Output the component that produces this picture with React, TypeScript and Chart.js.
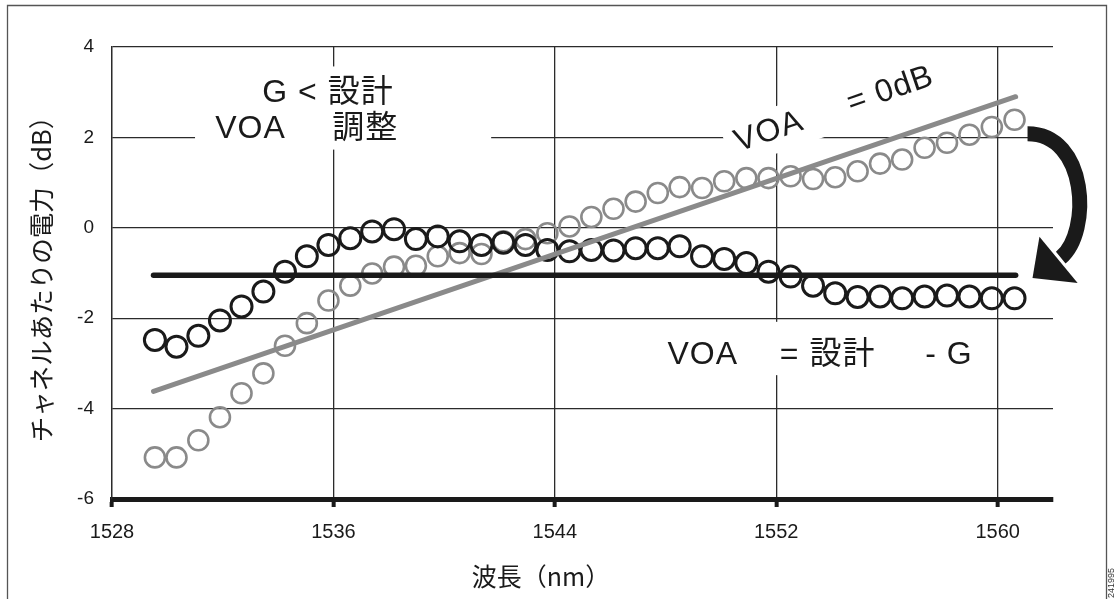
import React, { useEffect, useRef } from "react";
import { Chart, registerables } from "chart.js";

Chart.register(...registerables);

// ---- data ----
const wavelengths = [
  1529.55, 1530.33, 1531.12, 1531.9, 1532.68, 1533.47, 1534.25, 1535.04, 1535.82, 1536.61,
  1537.4, 1538.19, 1538.98, 1539.77, 1540.56, 1541.35, 1542.14, 1542.94, 1543.73, 1544.53,
  1545.32, 1546.12, 1546.92, 1547.72, 1548.51, 1549.32, 1550.12, 1550.92, 1551.72, 1552.52,
  1553.33, 1554.13, 1554.94, 1555.75, 1556.55, 1557.36, 1558.17, 1558.98, 1559.79, 1560.61,
];
const powerAdjusted = [
  -2.48, -2.63, -2.39, -2.05, -1.74, -1.41, -0.97, -0.63, -0.38, -0.23,
  -0.08, -0.03, -0.25, -0.19, -0.3, -0.38, -0.33, -0.38, -0.49, -0.52,
  -0.49, -0.5, -0.45, -0.45, -0.41, -0.63, -0.69, -0.78, -0.97, -1.08,
  -1.28, -1.45, -1.53, -1.52, -1.56, -1.52, -1.5, -1.52, -1.56, -1.56,
];
const powerVoaZero = [
  -5.08, -5.08, -4.7, -4.19, -3.66, -3.22, -2.61, -2.11, -1.61, -1.28,
  -1.01, -0.86, -0.84, -0.63, -0.56, -0.58, -0.3, -0.25, -0.12, 0.03,
  0.24, 0.42, 0.58, 0.77, 0.9, 0.88, 1.03, 1.1, 1.1, 1.14,
  1.08, 1.12, 1.25, 1.42, 1.51, 1.77, 1.88, 2.06, 2.23, 2.39,
];
const designLevelX = [1529.5, 1560.65];
const designLevelY = [-1.05, -1.05];
const tiltLineX = [1529.5, 1560.65];
const tiltLineY = [-3.62, 2.9];
const xTickValues = [1528, 1536, 1544, 1552, 1560];
const yTickValues = [-6, -4, -2, 0, 2, 4];

// ---- text ----
const yTitle = "チャネルあたりの電力（dB）";
const xTitle = "波長（nm）";
const plainLabels = [
  { text: "G < 設計", x: 1533.43, y: 2.79 },
  { text: "VOA", x: 1531.73, y: 1.99 },
  { text: "調整", x: 1535.96, y: 1.99 },
  { text: "VOA", x: 1548.07, y: -3.01 },
  { text: "= 設計", x: 1552.13, y: -3.01 },
  { text: "- G", x: 1557.38, y: -3.01 },
];
const whiteBoxes = [
  { x0: 1531.0, y0: 3.57, x1: 1541.7, y1: 1.73 },
  { x0: 1547.7, y0: -2.08, x1: 1559.4, y1: -3.26 },
];
const rotatedLabel = { x: 1550.64, y: 1.68, angle: -19, parts: [{ text: "VOA", at: 0 }, { text: "= 0dB", at: 119 }] };
const figureId = "241995";

const INK = "#1a1a1a";
const GRID = "#2b2b2b";
const GRAY = "#8a8a8a";
const SANS = "'Liberation Sans', Arial, 'Noto Sans CJK JP', sans-serif";
const CJK = "'Noto Sans CJK JP', 'Liberation Sans', sans-serif";

const decorPlugin = {
  id: "decor",
  beforeDatasetsDraw(chart: any) {
    const { ctx } = chart;
    const sx = chart.scales.x;
    const sy = chart.scales.y;
    const X = (v: number) => sx.getPixelForValue(v);
    const Y = (v: number) => sy.getPixelForValue(v);
    ctx.save();
    ctx.fillStyle = "#ffffff";
    for (const b of whiteBoxes) {
      ctx.fillRect(X(b.x0), Y(b.y0), X(b.x1) - X(b.x0), Y(b.y1) - Y(b.y0));
    }
    ctx.fillStyle = INK;
    ctx.font = `32px ${SANS}`;
    (ctx as any).letterSpacing = "1px";
    ctx.textAlign = "left";
    ctx.textBaseline = "alphabetic";
    for (const t of plainLabels) ctx.fillText(t.text, X(t.x), Y(t.y));
    ctx.translate(X(rotatedLabel.x), Y(rotatedLabel.y));
    ctx.rotate((rotatedLabel.angle * Math.PI) / 180);
    ctx.fillStyle = "#ffffff";
    ctx.fillRect(-10, -31, 232, 45);
    ctx.fillStyle = INK;
    for (const p of rotatedLabel.parts) ctx.fillText(p.text, p.at, 0);
    ctx.restore();
  },
  afterDraw(chart: any) {
    const { ctx, chartArea } = chart;
    const sx = chart.scales.x;
    const sy = chart.scales.y;
    const X = (v: number) => sx.getPixelForValue(v);
    const Y = (v: number) => sy.getPixelForValue(v);
    ctx.save();
    // curved arrow
    ctx.strokeStyle = INK;
    ctx.fillStyle = INK;
    ctx.lineWidth = 15;
    ctx.lineCap = "butt";
    ctx.beginPath();
    ctx.moveTo(X(1561.08), Y(2.08));
    ctx.bezierCurveTo(X(1563.25), Y(2.08), X(1563.4), Y(-0.09), X(1562.28), Y(-0.66));
    ctx.stroke();
    ctx.beginPath();
    ctx.moveTo(X(1561.51), Y(-0.2));
    ctx.lineTo(X(1561.26), Y(-1.11));
    ctx.lineTo(X(1562.89), Y(-1.22));
    ctx.closePath();
    ctx.fill();
    // x title
    ctx.font = `25px ${CJK}`;
    ctx.textAlign = "center";
    ctx.textBaseline = "middle";
    ctx.fillText(xTitle, X(1543.5), chartArea.bottom + 77);
    // frame
    ctx.strokeStyle = "#555";
    ctx.lineWidth = 1.3;
    ctx.beginPath();
    ctx.moveTo(7.5, chart.height);
    ctx.lineTo(7.5, 5.5);
    ctx.lineTo(chart.width - 9.5, 5.5);
    ctx.lineTo(chart.width - 9.5, chart.height);
    ctx.stroke();
    // figure id
    ctx.fillStyle = "#333";
    ctx.font = `9px ${SANS}`;
    ctx.translate(chart.width - 4, chart.height - 16);
    ctx.rotate(-Math.PI / 2);
    ctx.fillText(figureId, 0, 0);
    ctx.restore();
  },
};

export default function App() {
  const ref = useRef<HTMLCanvasElement | null>(null);
  useEffect(() => {
    if (!ref.current) return;
    const pts = (xs: number[], ys: number[]) => xs.map((x, i) => ({ x, y: ys[i] }));
    const chart = new Chart(ref.current, {
      type: "scatter",
      data: {
        datasets: [
          {
            type: "line",
            data: pts(designLevelX, designLevelY),
            borderColor: INK,
            borderWidth: 5.5,
            borderCapStyle: "round",
            pointRadius: 0,
            showLine: true,
            order: 0,
          } as any,
          {
            type: "line",
            data: pts(tiltLineX, tiltLineY),
            borderColor: GRAY,
            borderWidth: 5,
            borderCapStyle: "round",
            pointRadius: 0,
            showLine: true,
            order: 1,
          } as any,
          {
            data: pts(wavelengths, powerAdjusted),
            pointStyle: "circle",
            pointRadius: 10.5,
            pointBorderWidth: 3,
            pointBorderColor: INK,
            pointBackgroundColor: "rgba(0,0,0,0)",
            showLine: false,
            order: 2,
          } as any,
          {
            data: pts(wavelengths, powerVoaZero),
            pointStyle: "circle",
            pointRadius: 10,
            pointBorderWidth: 2.6,
            pointBorderColor: GRAY,
            pointBackgroundColor: "rgba(0,0,0,0)",
            showLine: false,
            order: 3,
          } as any,
        ],
      },
      options: {
        animation: false,
        responsive: true,
        maintainAspectRatio: false,
        events: [],
        layout: { padding: { left: 0, top: 47, right: 63, bottom: 0 } },
        plugins: { legend: { display: false }, tooltip: { enabled: false } },
        scales: {
          x: {
            type: "linear",
            min: 1528,
            max: 1562,
            afterBuildTicks: (s: any) => {
              s.ticks = xTickValues.map((v) => ({ value: v }));
            },
            afterFit: (s: any) => {
              s.height = 100;
            },
            grid: { color: GRID, lineWidth: 1.3, drawTicks: true, tickLength: 8, tickWidth: 4, tickColor: INK },
            border: { display: true, color: INK, width: 5 },
            ticks: {
              color: INK,
              font: { family: SANS, size: 20 },
              padding: 13,
              maxRotation: 0,
              autoSkip: false,
              callback: (v: any) => String(v),
            },
          },
          y: {
            type: "linear",
            min: -6,
            max: 4,
            afterBuildTicks: (s: any) => {
              s.ticks = yTickValues.map((v) => ({ value: v }));
            },
            afterFit: (s: any) => {
              s.width = 112;
            },
            grid: { color: GRID, lineWidth: 1.3, drawTicks: false },
            border: { display: true, color: GRID, width: 1.3 },
            ticks: { color: INK, font: { family: SANS, size: 19 }, padding: 18, callback: (v: any) => String(v) },
            title: {
              display: true,
              text: yTitle,
              color: INK,
              font: { family: CJK, size: 25.5 },
              padding: { top: 26, bottom: 0 },
            },
          },
        },
      },
      plugins: [decorPlugin],
    } as any);
    return () => chart.destroy();
  }, []);
  return (
    <div style={{ position: "fixed", left: 0, top: 0, width: 1116, height: 599, background: "#fff" }}>
      <canvas ref={ref} />
    </div>
  );
}
